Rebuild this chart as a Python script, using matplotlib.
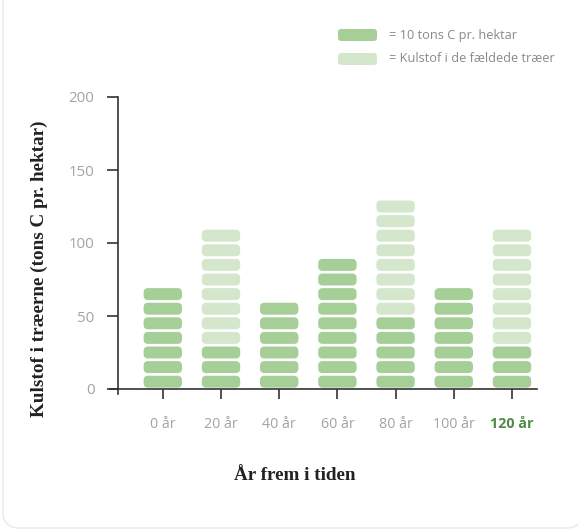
import matplotlib.pyplot as plt
from matplotlib.patches import FancyBboxPatch
from matplotlib.lines import Line2D

# Data: tons C per hectare, drawn as 10-ton blocks
years = ["0 år", "20 år", "40 år", "60 år", "80 år", "100 år", "120 år"]
standing = [70, 30, 60, 90, 50, 70, 30]      # carbon in standing trees
felled = [0, 80, 0, 0, 80, 0, 80]            # carbon in felled trees
block = 10

dark = "#a6cf98"
light = "#d4e7cc"
grey = "#a3a3a3"
axis_col = "#333333"

fig = plt.figure(figsize=(5.78, 5.32), dpi=100)
W, H = 578, 532

# card outline
card = FancyBboxPatch((3 / W, 4 / H), 580 / W, 540 / H,
                      boxstyle="round,pad=0,rounding_size=0.03",
                      transform=fig.transFigure, facecolor="white",
                      edgecolor="#ececec", linewidth=1.2, zorder=-5)
fig.patches.append(card)

# axes placed in pixel units
left, right, bottom, top = 118, 537, 143, 435  # bottom/top measured from figure bottom
ax = fig.add_axes([left / W, bottom / H, (right - left) / W, (top - bottom) / H])
ax.set_facecolor("none")
ax.set_xlim(-0.77, 6.43)
ax.set_ylim(0, 200)

width = 0.66
gap = 1.8
px_x = (right - left) / 7.2          # pixels per x unit
px_y = (top - bottom) / 200           # pixels per y unit
aspect = px_x / px_y
rs = 4.5 / px_x

for i, (s, f) in enumerate(zip(standing, felled)):
    n_dark = s // block
    n_light = f // block
    for k in range(n_dark + n_light):
        col = dark if k < n_dark else light
        y0 = k * block + gap / 2
        p = FancyBboxPatch((i - width / 2, y0), width, block - gap,
                           boxstyle=f"round,pad=0,rounding_size={rs}",
                           mutation_aspect=aspect, facecolor=col,
                           edgecolor="none")
        ax.add_patch(p)

for sp in ["top", "right"]:
    ax.spines[sp].set_visible(False)
ax.spines["left"].set_color(axis_col)
ax.spines["bottom"].set_color(axis_col)
ax.spines["left"].set_linewidth(1.2)
ax.spines["bottom"].set_linewidth(1.2)
# small overhang of the axis lines
ax.add_line(Line2D([-0.77 - 8 / px_x, -0.77], [0, 0], color=axis_col, lw=1.2, clip_on=False))
ax.add_line(Line2D([-0.77, -0.77], [0, -5 / px_y], color=axis_col, lw=1.2, clip_on=False))

ax.set_yticks([0, 50, 100, 150, 200])
ax.tick_params(axis="y", direction="out", length=8, width=1.2, color=axis_col,
               labelcolor=grey, labelsize=10.8, pad=9)
ax.set_xticks(range(len(years)))
ax.set_xticklabels(years)
ax.tick_params(axis="x", direction="out", length=7, width=1.2, color=axis_col,
               labelcolor=grey, labelsize=10.3, pad=13)
for lab in ax.get_xticklabels() + ax.get_yticklabels():
    lab.set_family("Open Sans")
last = ax.get_xticklabels()[-1]
last.set_color("#4f8a45")
last.set_fontweight("bold")

fig.text(295 / W, 1 - 476 / H, "År frem i tiden", family="Liberation Serif",
         fontweight="bold", fontsize=13.8, color="#222222", ha="center", va="center")
fig.text(39 / W, 1 - 269 / H, "Kulstof i træerne (tons C pr. hektar)",
         family="Liberation Serif", fontweight="bold", fontsize=13.8,
         color="#222222", rotation=90, ha="center", va="center")

# legend
for j, (col, txt) in enumerate([(dark, "= 10 tons C pr. hektar"),
                                (light, "= Kulstof i de fældede træer")]):
    yc = 35 + j * 24
    leg = FancyBboxPatch((338 / W, 1 - (yc + 6) / H), 39 / W, 12 / H,
                         boxstyle="round,pad=0,rounding_size=0.006",
                         transform=fig.transFigure, facecolor=col, edgecolor="none")
    fig.patches.append(leg)
    fig.text(389 / W, 1 - yc / H, txt, family="Open Sans", fontsize=9.2,
             color="#8a8a8a", va="center", ha="left")

fig.savefig("out.png", dpi=100)
